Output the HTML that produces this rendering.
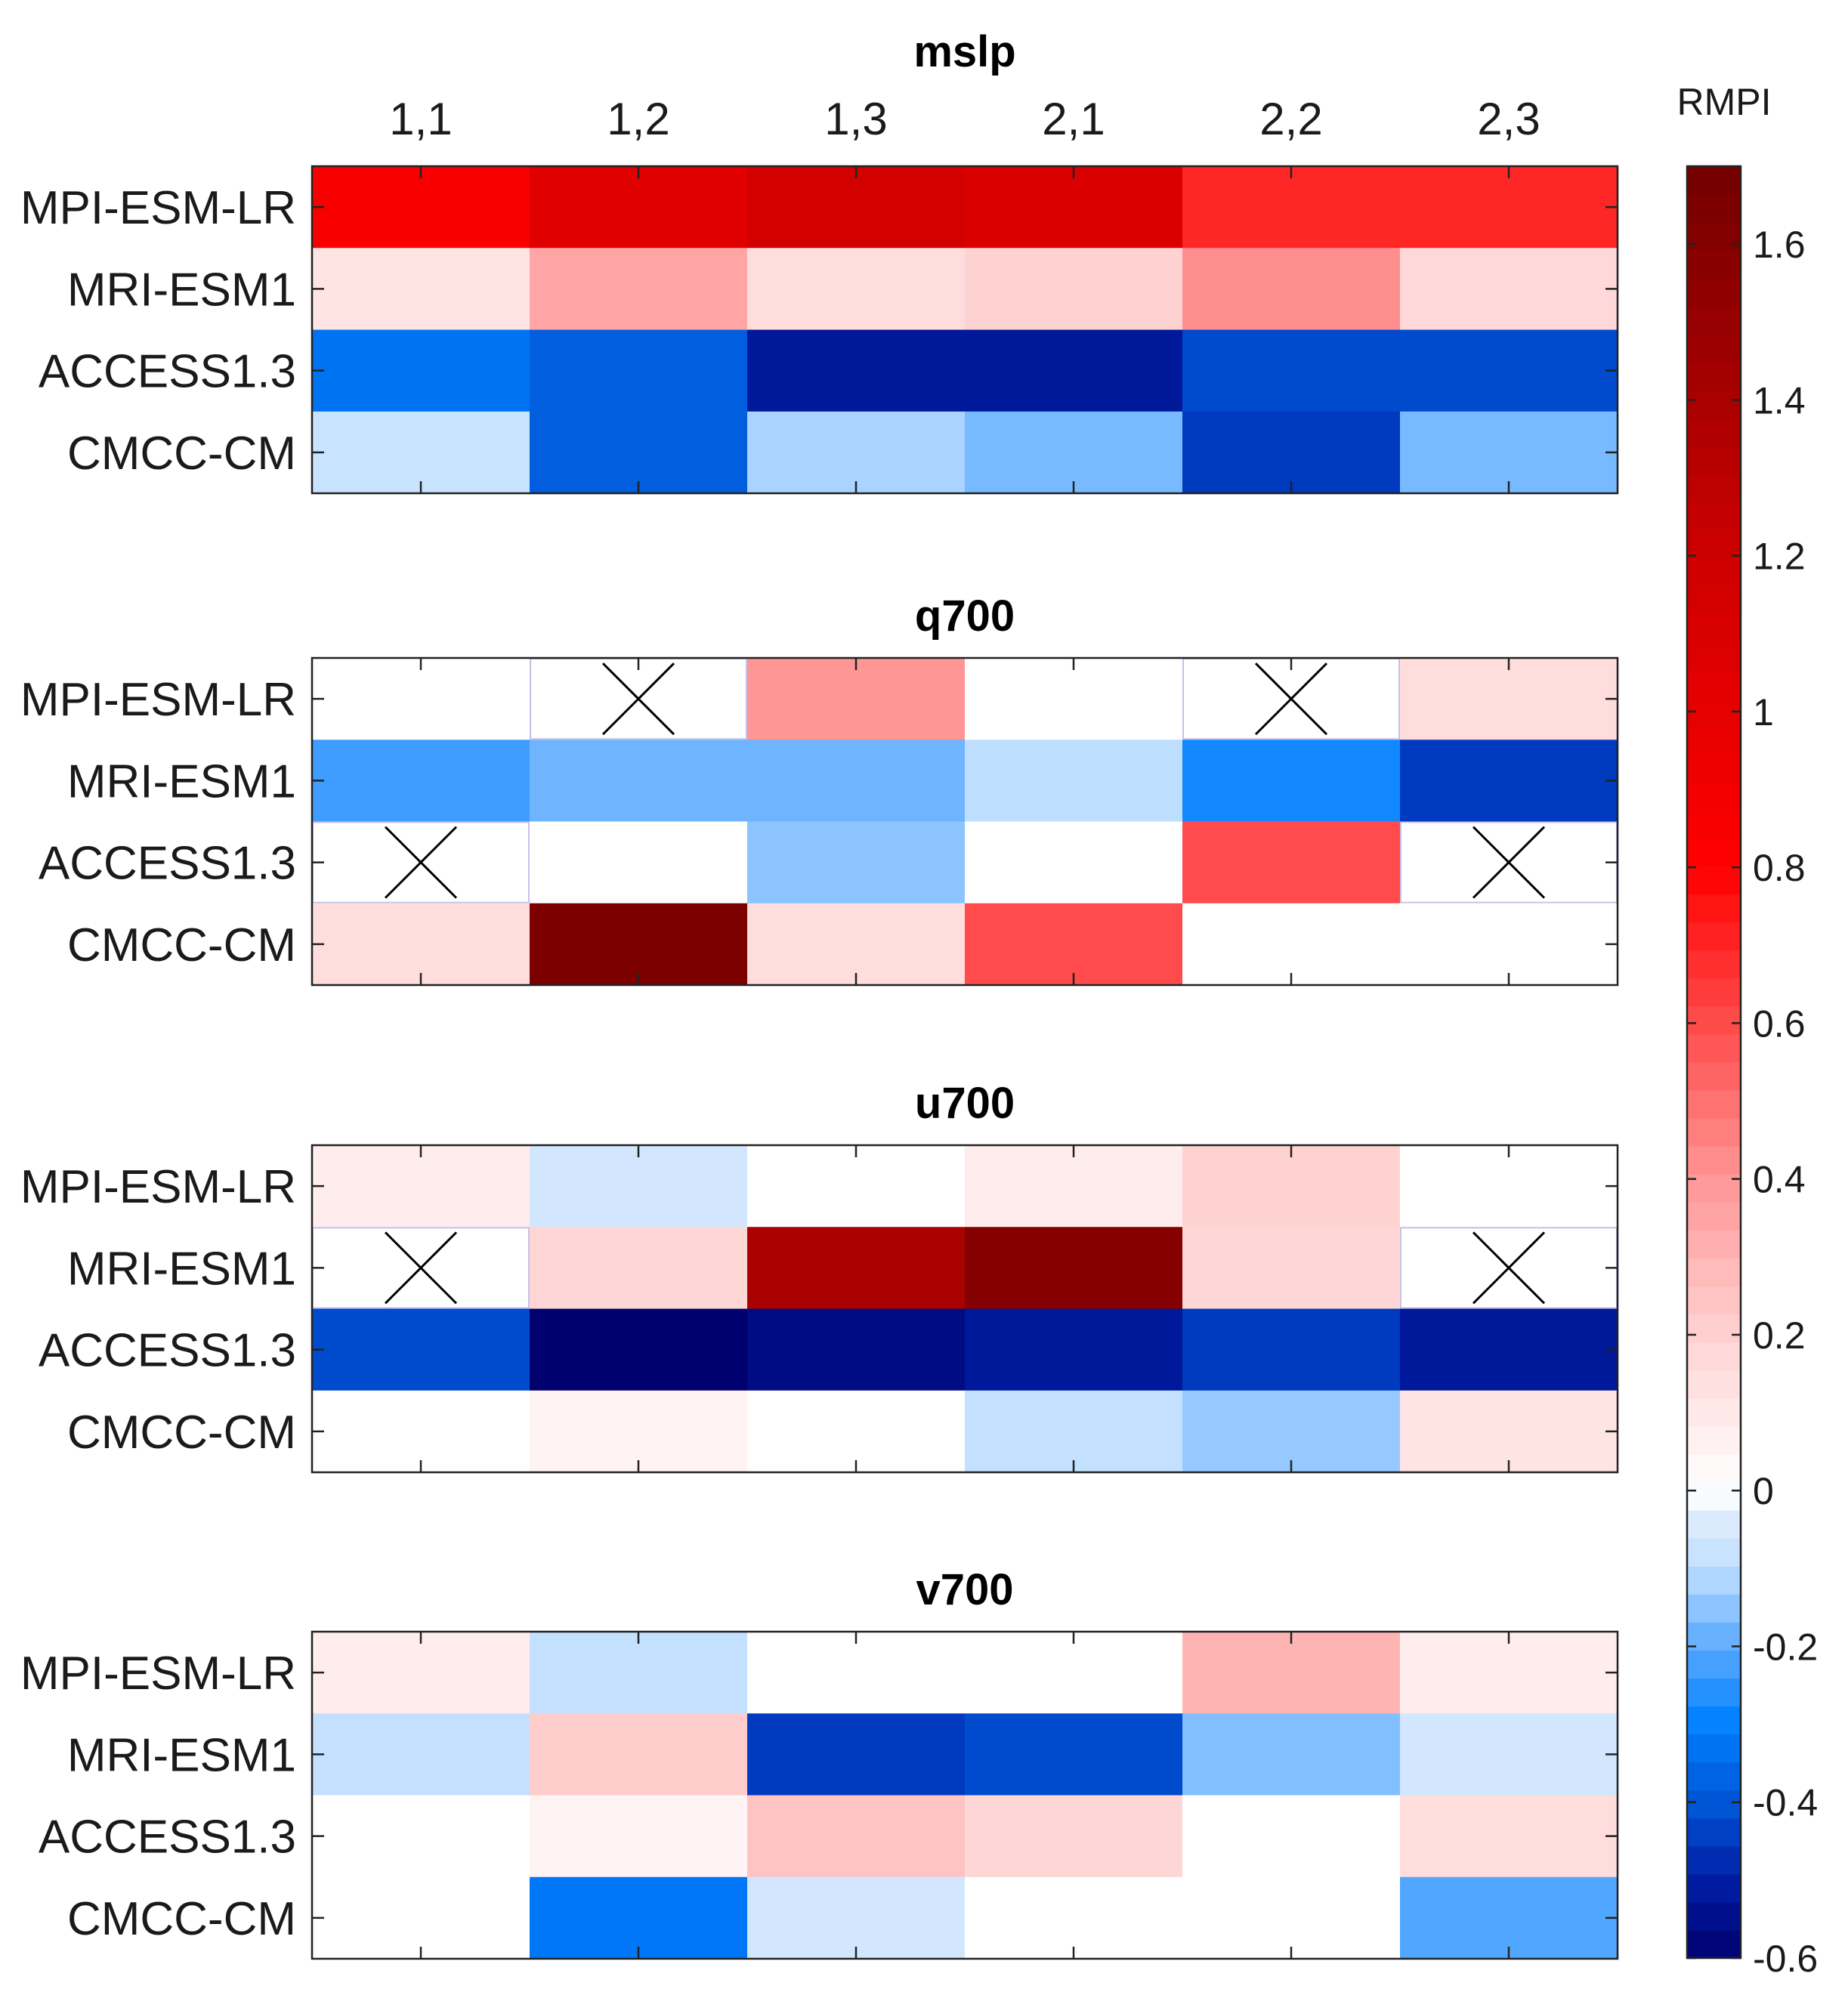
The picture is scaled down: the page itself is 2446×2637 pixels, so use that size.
<!DOCTYPE html>
<html><head><meta charset="utf-8">
<style>
html,body{margin:0;padding:0;background:#fff;}
svg{display:block;font-family:"Liberation Sans",Arial,sans-serif;}
</style></head>
<body>
<svg id="chart" width="2446" height="2637" viewBox="0 0 2446 2637" xmlns="http://www.w3.org/2000/svg"></svg>
<script>
const columns = ["1,1","1,2","1,3","2,1","2,2","2,3"];
const models = ["MPI-ESM-LR","MRI-ESM1","ACCESS1.3","CMCC-CM"];
const panelTitles = ["mslp","q700","u700","v700"];
const N = null;
const mslpValues = [
  [0.85,1.05,1.15,1.1,0.7,0.7],
  [0.12,0.35,0.15,0.2,0.42,0.17],
  [-0.33,-0.38,-0.52,-0.52,-0.42,-0.42],
  [-0.08,-0.38,-0.12,-0.17,-0.45,-0.17]
];
const q700Values = [
  [0,N,0.4,0,N,0.15],
  [-0.23,-0.18,-0.18,-0.1,-0.28,-0.45],
  [N,0,-0.15,0,0.6,N],
  [0.15,1.65,0.15,0.6,0,0]
];
const u700Values = [
  [0.08,-0.06,0,0.08,0.2,0],
  [N,0.18,1.4,1.6,0.18,N],
  [-0.42,-0.6,-0.56,-0.52,-0.45,-0.52],
  [0,0.06,0,-0.09,-0.14,0.12]
];
const v700Values = [
  [0.08,-0.09,0,0,0.3,0.08],
  [-0.09,0.22,-0.45,-0.42,-0.16,-0.06],
  [0,0.06,0.25,0.18,0,0.15],
  [0,-0.32,-0.06,0,0,-0.21]
];
const colorbarTicks = [-0.6,-0.4,-0.2,0,0.2,0.4,0.6,0.8,1,1.2,1.4,1.6];
const cbMin = -0.6, cbMax = 1.7;

const panels = [mslpValues,q700Values,u700Values,v700Values];
const NS = "http://www.w3.org/2000/svg";
const svg = document.getElementById('chart');
function el(tag, attrs, parent){
  const e = document.createElementNS(NS, tag);
  for (const k in attrs) e.setAttribute(k, attrs[k]);
  (parent||svg).appendChild(e);
  return e;
}
const stops = [
  [-0.6,[0,0,110]],[-0.5,[0,30,165]],[-0.4,[0,85,215]],[-0.3,[0,128,255]],
  [-0.2,[90,170,255]],[-0.1,[190,222,255]],[-0.03,[225,238,252]],[0,[255,255,255]],
  [0.04,[255,248,248]],[0.1,[255,232,232]],[0.2,[255,210,210]],[0.4,[255,150,150]],
  [0.6,[255,75,75]],[0.8,[255,0,0]],[1.2,[205,0,0]],[1.7,[115,0,0]]
];
function color(v){
  if (v<=stops[0][0]) return 'rgb('+stops[0][1]+')';
  for (let i=1;i<stops.length;i++){
    if (v<=stops[i][0]){
      const a=stops[i-1], b=stops[i], t=(v-a[0])/(b[0]-a[0]);
      const c=a[1].map((x,j)=>Math.round(x+(b[1][j]-x)*t));
      return 'rgb('+c.join(',')+')';
    }
  }
  return 'rgb('+stops[stops.length-1][1]+')';
}
const X0=413, X1=2141;
const panelTops=[220,871,1516,2160];
const PH=433;
const cw=(X1-X0)/columns.length;
const xScale = i => X0 + i*cw;

panels.forEach((vals,p)=>{
  const top=panelTops[p], rh=PH/models.length;
  const yScale = r => top + r*rh;
  const g = el('g',{});
  
  
  const ty = p===0 ? 88 : top-36;
  const t = el('text',{x:(X0+X1)/2,y:ty,'text-anchor':'middle','font-size':58,'font-weight':'bold',fill:'#000'},g);
  t.textContent = panelTitles[p];
  
  
  vals.forEach((row,r)=>{
    row.forEach((v,c)=>{
      const x=xScale(c), y=yScale(r);
      const rect = el('rect',{x:x,y:y,width:cw+0.5,height:rh+0.5,fill: v===null?'#fff':color(v)},g);
      
      
      if (v===null){
        el('rect',{x:x+1,y:y+1,width:cw-2,height:rh-2,fill:'none',stroke:'#c8c0e6','stroke-width':2},g);
        const cx=x+cw/2, cy=y+rh/2, d=47;
        const m = el('path',{d:`M${cx-d} ${cy-d}L${cx+d} ${cy+d}M${cx-d} ${cy+d}L${cx+d} ${cy-d}`,stroke:'#000','stroke-width':3,fill:'none'},g);
        
        
      }
    });
    const lbl = el('text',{x:392,y:yScale(r)+rh/2+22,'text-anchor':'end','font-size':62,fill:'#1a1a1a'},g);
    lbl.textContent = models[r];
    
    
    const yc=yScale(r)+rh/2;
    el('line',{x1:X0,y1:yc,x2:X0+16,y2:yc,stroke:'#222','stroke-width':2.5},g);
    el('line',{x1:X1,y1:yc,x2:X1-16,y2:yc,stroke:'#222','stroke-width':2.5},g);
  });
  columns.forEach((c,i)=>{
    const xc=xScale(i)+cw/2;
    el('line',{x1:xc,y1:top,x2:xc,y2:top+16,stroke:'#222','stroke-width':2.5},g);
    el('line',{x1:xc,y1:top+PH,x2:xc,y2:top+PH-16,stroke:'#222','stroke-width':2.5},g);
    if (p===0){
      const ct = el('text',{x:xc,y:178,'text-anchor':'middle','font-size':60,fill:'#1a1a1a'},g);
      ct.textContent = c;
      
      
    }
  });
  el('rect',{x:X0,y:top,width:X1-X0,height:PH,fill:'none',stroke:'#222','stroke-width':2.5},g);
});

// colorbar
const CX0=2233, CX1=2304, CY0=220, CY1=2592;
const cbScale = v => CY1 - (v-cbMin)/(cbMax-cbMin)*(CY1-CY0);
const cb = el('g',{});


const nSteps=64;
for (let i=0;i<nSteps;i++){
  const v0=cbMin+(cbMax-cbMin)*i/nSteps, v1=cbMin+(cbMax-cbMin)*(i+1)/nSteps;
  el('rect',{x:CX0,y:cbScale(v1),width:CX1-CX0,height:cbScale(v0)-cbScale(v1)+0.6,fill:color((v0+v1)/2)},cb);
}
el('rect',{x:CX0,y:CY0,width:CX1-CX0,height:CY1-CY0,fill:'none',stroke:'#222','stroke-width':2.5},cb);
colorbarTicks.forEach(v=>{
  const y=cbScale(v);
  el('line',{x1:CX0,y1:y,x2:CX0+12,y2:y,stroke:'#222','stroke-width':2.5},cb);
  el('line',{x1:CX1,y1:y,x2:CX1-12,y2:y,stroke:'#222','stroke-width':2.5},cb);
  const t = el('text',{x:2320,y:y+18,'font-size':50,fill:'#1a1a1a'},cb);
  t.textContent = String(v);
  
  
});
const cbt = el('text',{x:2282,y:152,'text-anchor':'middle','font-size':50,fill:'#1a1a1a'},cb);
cbt.textContent = 'RMPI';


</script>
</body></html>
